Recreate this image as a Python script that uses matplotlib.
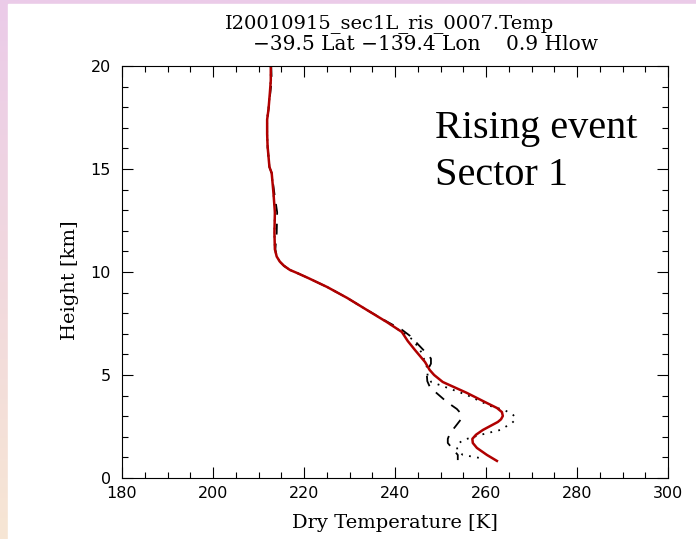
import matplotlib
matplotlib.use('Agg')
import matplotlib.pyplot as plt
from matplotlib.patches import Rectangle
from matplotlib.ticker import MultipleLocator
import numpy as np

# red solid profile
h_red = [20.0, 19.3, 18.7, 17.9, 17.4, 16.7, 16.1, 15.1, 14.8, 13.8, 12.9, 11.9, 11.1, 10.75, 10.5,
         10.3, 10.1, 9.95, 9.7, 9.27, 8.74, 8.16, 7.57, 7.09, 6.65, 6.21, 5.63, 5.25, 5.0, 4.66, 4.13,
         3.64, 3.40, 3.20, 3.01, 2.85, 2.72, 2.33, 2.10, 1.90, 1.70, 1.46, 1.12, 0.83]
t_red = [212.7, 212.7, 212.5, 212.2, 211.9, 211.9, 212.0, 212.4, 212.9, 213.3, 213.6, 213.5, 213.6, 214.0, 214.7,
         215.6, 216.9, 218.5, 221.0, 225.1, 229.5, 233.8, 238.2, 241.5, 242.8, 244.4, 246.6, 247.6, 248.6, 250.5, 255.8,
         260.2, 262.4, 263.5, 263.7, 263.3, 262.6, 259.3, 257.8, 257.0, 257.1, 258.0, 260.2, 262.4]

# black dashed profile
h_dash = [20.0, 19.3, 18.7, 17.9, 17.4, 16.7, 16.1, 15.1, 14.8, 13.8, 12.9, 11.9, 11.1, 10.75, 10.5,
          10.3, 10.1, 9.95, 9.7, 9.27, 8.74, 8.16, 7.57, 7.2, 6.9, 6.55, 6.2, 5.8, 5.55, 5.3, 5.0, 4.7, 4.4,
          3.69, 3.35, 3.1, 2.85, 2.48, 2.18, 1.90, 1.70, 1.46, 1.12, 0.87]
t_dash = [212.8, 212.9, 212.6, 212.2, 211.9, 211.9, 212.0, 212.4, 212.9, 213.5, 214.1, 214.0, 213.7, 214.0, 214.7,
          215.6, 216.9, 218.5, 221.0, 225.1, 229.5, 233.8, 238.4, 241.5, 243.3, 244.8, 246.3, 247.9, 247.9, 247.3, 247.0, 247.1, 247.7,
          251.4, 253.6, 254.6, 254.5, 253.2, 252.1, 251.6, 251.6, 252.5, 253.8, 253.8]

# black dotted profile
h_dot = [20.0, 19.3, 18.7, 17.9, 17.4, 16.7, 16.1, 15.1, 14.8, 13.8, 12.9, 11.9, 11.1, 10.75, 10.5,
         10.3, 10.1, 9.95, 9.7, 9.27, 8.74, 8.16, 7.57, 7.09, 6.7, 6.07, 5.39, 4.90, 4.65, 4.51, 4.03,
         3.50, 3.30, 3.10, 2.96, 2.80, 2.67, 2.33, 2.09, 1.84, 1.60, 1.35, 1.12, 0.97]
t_dot = [212.7, 212.7, 212.5, 212.2, 211.9, 211.9, 212.0, 212.4, 212.9, 213.3, 213.6, 213.5, 213.6, 214.0, 214.7,
         215.6, 216.9, 218.5, 221.0, 225.1, 229.5, 233.8, 238.2, 241.5, 244.0, 245.9, 247.0, 247.2, 248.0, 249.9, 255.8,
         260.9, 264.0, 265.8, 266.4, 266.3, 265.7, 263.1, 258.7, 254.9, 253.6, 253.7, 254.9, 258.7]

W, H = 696, 539
fig = plt.figure(figsize=(W / 100, H / 100), dpi=100)

# slide background: lavender -> peach strip on the left and top
bg = fig.add_axes([0, 0, 1, 1], zorder=-10)
top = np.array([235, 203, 233]) / 255.
bot = np.array([247, 230, 212]) / 255.
f = np.linspace(0, 1, 256)[:, None]
grad = (top * (1 - f) + bot * f)[:, None, :]
bg.imshow(grad, aspect='auto', extent=[0, 1, 0, 1])
bg.add_patch(Rectangle((8 / W, 0), 1, (H - 4) / H, color='white'))
bg.set_xlim(0, 1)
bg.set_ylim(0, 1)
bg.axis('off')

x0, x1, y0, y1 = 122, 668, 66, 478
ax = fig.add_axes([x0 / W, 1 - y1 / H, (x1 - x0) / W, (y1 - y0) / H])

ax.plot(t_dot, h_dot, color='black', lw=1.3, dashes=(1, 3.5))
ax.plot(t_dash, h_dash, color='black', lw=1.3, dashes=(6, 5))
ax.plot(t_red, h_red, color='#b00000', lw=1.8, solid_joinstyle='round')

ax.set_xlim(180, 300)
ax.set_ylim(0, 20)
ax.xaxis.set_major_locator(MultipleLocator(20))
ax.xaxis.set_minor_locator(MultipleLocator(5))
ax.yaxis.set_major_locator(MultipleLocator(5))
ax.yaxis.set_minor_locator(MultipleLocator(1))
ax.tick_params(which='both', direction='in', top=True, right=True, width=0.8, colors='black')
ax.tick_params(which='major', length=8)
ax.tick_params(which='minor', length=4.3)
ax.tick_params(axis='x', pad=6, labelsize=11.5)
ax.tick_params(axis='y', pad=8, labelsize=11.5)
for s in ax.spines.values():
    s.set_linewidth(0.8)

serif = 'DejaVu Serif'
fig.text(390 / W, 1 - 28 / H, 'I20010915_sec1L_ris_0007.Temp', family=serif, fontsize=14,
         ha='center', va='baseline')
fig.text(426 / W, 1 - 50 / H, '\u221239.5 Lat \u2212139.4 Lon    0.9 Hlow', family=serif, fontsize=14.5,
         ha='center', va='baseline')
fig.text(395 / W, 1 - 523 / H, 'Dry Temperature [K]', family=serif, fontsize=14,
         ha='center', va='center')
fig.text(70 / W, 1 - 280 / H, 'Height [km]', family=serif, fontsize=14,
         ha='center', va='center', rotation=90)

fig.text(435 / W, 1 - 138 / H, 'Rising event', family='Liberation Serif', fontsize=29,
         ha='left', va='baseline')
fig.text(435 / W, 1 - 185 / H, 'Sector 1', family='Liberation Serif', fontsize=29,
         ha='left', va='baseline')

fig.savefig('out.png', dpi=100)
